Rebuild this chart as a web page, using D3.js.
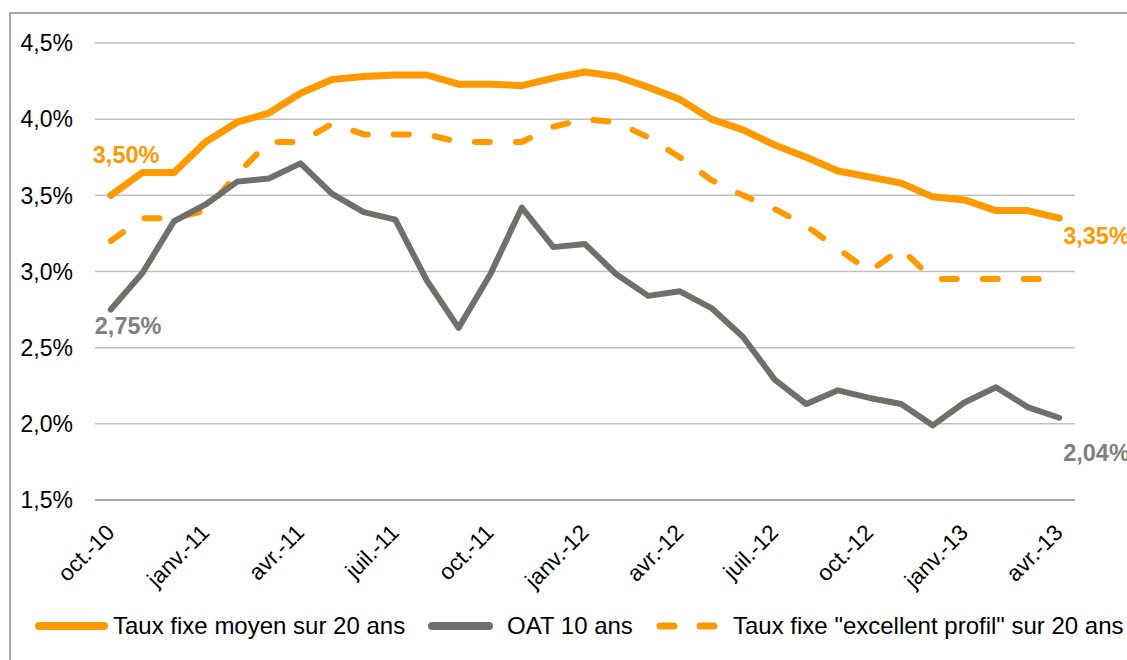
<!DOCTYPE html>
<html>
<head>
<meta charset="utf-8">
<script src="https://cdn.jsdelivr.net/npm/d3@7"></script>
<style>
  body { margin: 0; background: #fff; }
  text { font-family: Arial, "Liberation Sans", sans-serif; }
</style>
</head>
<body>
<svg width="1127" height="660"></svg>
<script>
// months oct.-10 .. avr.-13
const months = ['oct.-10', 'nov.-10', 'déc.-10',
  'janv.-11', 'févr.-11', 'mars-11', 'avr.-11', 'mai-11', 'juin-11', 'juil.-11', 'août-11', 'sept.-11', 'oct.-11', 'nov.-11', 'déc.-11',
  'janv.-12', 'févr.-12', 'mars-12', 'avr.-12', 'mai-12', 'juin-12', 'juil.-12', 'août-12', 'sept.-12', 'oct.-12', 'nov.-12', 'déc.-12',
  'janv.-13', 'févr.-13', 'mars-13', 'avr.-13']
const shownLabels = ['oct.-10', 'janv.-11', 'avr.-11', 'juil.-11', 'oct.-11', 'janv.-12', 'avr.-12', 'juil.-12', 'oct.-12', 'janv.-13', 'avr.-13']

const tauxMoyen = [3.50, 3.65, 3.65, 3.85, 3.98, 4.04, 4.17, 4.26, 4.28, 4.29, 4.29, 4.23, 4.23, 4.22, 4.27, 4.31,
  4.28, 4.21, 4.13, 4.00, 3.93, 3.83, 3.75, 3.66, 3.62, 3.58, 3.49, 3.47, 3.40, 3.40, 3.35]
const oat10 = [2.75, 2.99, 3.33, 3.44, 3.59, 3.61, 3.71, 3.51, 3.39, 3.34, 2.94, 2.63, 2.98, 3.42, 3.16, 3.18,
  2.98, 2.84, 2.87, 2.76, 2.57, 2.29, 2.13, 2.22, 2.17, 2.13, 1.99, 2.14, 2.24, 2.11, 2.04]
const tauxExcellent = [3.20, 3.35, 3.35, 3.40, 3.64, 3.85, 3.85, 3.97, 3.90, 3.90, 3.90, 3.85, 3.85, 3.85, 3.95, 4.00,
  3.98, 3.88, 3.75, 3.60, 3.50, 3.41, 3.30, 3.15, 3.00, 3.15, 2.95, 2.95, 2.95, 2.95, 2.95]

const yTicks = [1.5, 2.0, 2.5, 3.0, 3.5, 4.0, 4.5]
const seriesNames = ['Taux fixe moyen sur 20 ans', 'OAT 10 ans', 'Taux fixe "excellent profil" sur 20 ans']

const orange = '#ff9900'
const grey = '#706f69'
const labelGrey = '#808080'

const svg = d3.select('svg')
const fmt = v => v.toFixed(2).replace('.', ',') + '%'

// frame
svg.append('path')
  .attr('d', 'M10,700 L10,13 L1140,13')
  .attr('fill', 'none')
  .attr('stroke', '#8c8c8c')
  .attr('stroke-width', 1.5)

const x = d3.scalePoint()
  .domain(months)
  .range([95, 1075])
  .padding(0.5)

const y = d3.scaleLinear()
  .domain([1.5, 4.5])
  .range([500, 43])

// grid
svg.append('g').selectAll('line')
  .data(yTicks)
  .enter().append('line')
  .attr('x1', 95)
  .attr('x2', 1075)
  .attr('y1', d => y(d))
  .attr('y2', d => y(d))
  .attr('stroke', d => d === 1.5 ? '#8c8c8c' : '#c0c0c0')
  .attr('stroke-width', 1.5)

// y tick labels
svg.append('g').selectAll('text')
  .data(yTicks)
  .enter().append('text')
  .attr('x', 73)
  .attr('y', d => y(d))
  .attr('dy', '0.36em')
  .attr('text-anchor', 'end')
  .attr('font-size', 23)
  .attr('fill', '#000')
  .text(d => d.toFixed(1).replace('.', ',') + '%')

// x labels
svg.append('g').selectAll('text')
  .data(shownLabels)
  .enter().append('text')
  .attr('transform', d => 'translate(' + (x(d) + 5) + ',534) rotate(-45)')
  .attr('text-anchor', 'end')
  .attr('font-size', 22.5)
  .attr('fill', '#000')
  .text(d => d)

const line = d3.line()
  .x((d, i) => x(months[i]))
  .y(d => y(d))

svg.append('path')
  .datum(tauxExcellent)
  .attr('d', line)
  .attr('fill', 'none')
  .attr('stroke', orange)
  .attr('stroke-width', 6)
  .attr('stroke-linecap', 'round')
  .attr('stroke-linejoin', 'round')
  .attr('stroke-dasharray', '15,26')

svg.append('path')
  .datum(oat10)
  .attr('d', line)
  .attr('fill', 'none')
  .attr('stroke', grey)
  .attr('stroke-width', 6)
  .attr('stroke-linecap', 'round')
  .attr('stroke-linejoin', 'round')

svg.append('path')
  .datum(tauxMoyen)
  .attr('d', line)
  .attr('fill', 'none')
  .attr('stroke', orange)
  .attr('stroke-width', 7)
  .attr('stroke-linecap', 'round')
  .attr('stroke-linejoin', 'round')

// end labels
const last = months.length - 1
const endLabels = [
  { v: tauxMoyen[0], i: 0, color: orange, dx: -18, dy: -32 },
  { v: oat10[0], i: 0, color: labelGrey, dx: -16, dy: 24 },
  { v: tauxMoyen[last], i: last, color: orange, dx: 4, dy: 26 },
  { v: oat10[last], i: last, color: labelGrey, dx: 4, dy: 43 }
]
svg.append('g').selectAll('text')
  .data(endLabels)
  .enter().append('text')
  .attr('x', d => x(months[d.i]) + d.dx)
  .attr('y', d => y(d.v) + d.dy)
  .attr('font-size', 23.5)
  .attr('font-weight', 'bold')
  .attr('fill', d => d.color)
  .text(d => fmt(d.v))

// legend
const legend = [
  { name: seriesNames[0], color: orange, width: 8, dash: null, x1: 39, x2: 104, tx: 113 },
  { name: seriesNames[1], color: grey, width: 8, dash: null, x1: 432, x2: 489, tx: 507 },
  { name: seriesNames[2], color: orange, width: 7, dash: '14,26', x1: 660, x2: 715, tx: 733 }
]
const lg = svg.append('g')
lg.selectAll('line')
  .data(legend)
  .enter().append('line')
  .attr('x1', d => d.x1)
  .attr('x2', d => d.x2)
  .attr('y1', 626)
  .attr('y2', 626)
  .attr('stroke', d => d.color)
  .attr('stroke-width', d => d.width)
  .attr('stroke-linecap', 'round')
  .attr('stroke-dasharray', d => d.dash)
lg.selectAll('text')
  .data(legend)
  .enter().append('text')
  .attr('x', d => d.tx)
  .attr('y', 634)
  .attr('font-size', 24)
  .attr('fill', '#000')
  .text(d => d.name)
</script>
</body>
</html>
